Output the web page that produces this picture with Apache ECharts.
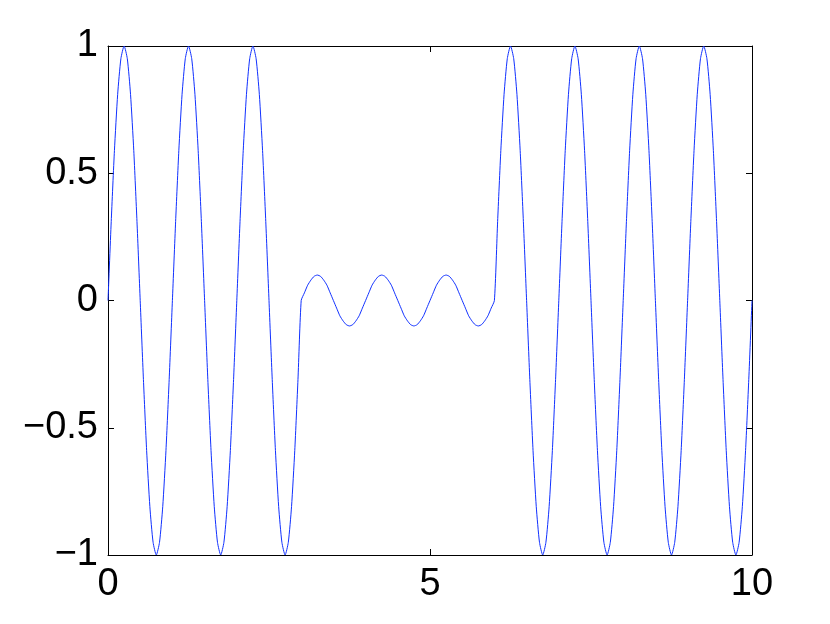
<!DOCTYPE html>
<html>
<head>
<meta charset="utf-8">
<script src="https://cdn.jsdelivr.net/npm/echarts@6/dist/echarts.min.js"></script>
<style>
  html, body { margin: 0; padding: 0; background: #fff; }
  #chart { width: 830px; height: 624px; }
</style>
</head>
<body>
<div id="chart"></div>
<script>
// Sample spacing along x (values read at every 0.05 step)
const xStep = 0.05;
// y values, x = 0 .. 2.95
const segmentA = [
  0, 0.31, 0.59, 0.81, 0.95, 1, 0.95, 0.81, 0.59, 0.31, 0, -0.31, -0.59, -0.81, -0.95, -1, -0.95, -0.81, -0.59, -0.31,
  0, 0.31, 0.59, 0.81, 0.95, 1, 0.95, 0.81, 0.59, 0.31, 0, -0.31, -0.59, -0.81, -0.95, -1, -0.95, -0.81, -0.59, -0.31,
  0, 0.31, 0.59, 0.81, 0.95, 1, 0.95, 0.81, 0.59, 0.31, 0, -0.31, -0.59, -0.81, -0.95, -1, -0.95, -0.81, -0.59, -0.31
];
// x = 3.00 .. 5.95 (small ripple)
const segmentB = [
  0, 0.03, 0.06, 0.08, 0.095, 0.1, 0.095, 0.08, 0.06, 0.03, 0, -0.03, -0.06, -0.08, -0.095, -0.1, -0.095, -0.08, -0.06, -0.03,
  0, 0.03, 0.06, 0.08, 0.095, 0.1, 0.095, 0.08, 0.06, 0.03, 0, -0.03, -0.06, -0.08, -0.095, -0.1, -0.095, -0.08, -0.06, -0.03,
  0, 0.03, 0.06, 0.08, 0.095, 0.1, 0.095, 0.08, 0.06, 0.03, 0, -0.03, -0.06, -0.08, -0.095, -0.1, -0.095, -0.08, -0.06, -0.03
];
// x = 6.00 .. 10.00
const segmentC = [
  0, 0.31, 0.59, 0.81, 0.95, 1, 0.95, 0.81, 0.59, 0.31, 0, -0.31, -0.59, -0.81, -0.95, -1, -0.95, -0.81, -0.59, -0.31,
  0, 0.31, 0.59, 0.81, 0.95, 1, 0.95, 0.81, 0.59, 0.31, 0, -0.31, -0.59, -0.81, -0.95, -1, -0.95, -0.81, -0.59, -0.31,
  0, 0.31, 0.59, 0.81, 0.95, 1, 0.95, 0.81, 0.59, 0.31, 0, -0.31, -0.59, -0.81, -0.95, -1, -0.95, -0.81, -0.59, -0.31,
  0, 0.31, 0.59, 0.81, 0.95, 1, 0.95, 0.81, 0.59, 0.31, 0, -0.31, -0.59, -0.81, -0.95, -1, -0.95, -0.81, -0.59, -0.31,
  0
];
const xTicks = [0, 5, 10];
const yTicks = [-1, -0.5, 0, 0.5, 1];

const yValues = segmentA.concat(segmentB, segmentC);
const lineData = yValues.map((y, i) => [Math.round(i * xStep * 100) / 100, y]);

const fontFamily = 'Liberation Sans, Arial, Helvetica, sans-serif';
const axisColor = '#000';
function fmt(v) {
  return v < 0 ? '\u2212' + String(Math.abs(v)) : String(v);
}
function xAxisCfg(pos, showLabel) {
  return {
    type: 'value', position: pos,
    min: xTicks[0], max: xTicks[xTicks.length - 1], interval: xTicks[1] - xTicks[0],
    axisLine: { show: true, onZero: false, lineStyle: { color: axisColor, width: 1 } },
    axisTick: { show: true, inside: true, length: 6, lineStyle: { color: axisColor, width: 1 } },
    splitLine: { show: false },
    axisLabel: { show: showLabel, color: '#000', fontSize: 38, fontFamily: fontFamily, margin: 11, formatter: fmt }
  };
}
function yAxisCfg(pos, showLabel) {
  return {
    type: 'value', position: pos,
    min: yTicks[0], max: yTicks[yTicks.length - 1], interval: yTicks[1] - yTicks[0],
    axisLine: { show: true, onZero: false, lineStyle: { color: axisColor, width: 1 } },
    axisTick: { show: true, inside: true, length: 6, lineStyle: { color: axisColor, width: 1 } },
    splitLine: { show: false },
    axisLabel: { show: showLabel, color: '#000', fontSize: 38, fontFamily: fontFamily, margin: 10, formatter: fmt }
  };
}

const chart = echarts.init(document.getElementById('chart'), null, { renderer: 'canvas' });
chart.setOption({
  animation: false,
  backgroundColor: '#fff',
  grid: { left: 108, right: 78, top: 46, bottom: 69, containLabel: false },
  xAxis: [xAxisCfg('bottom', true), xAxisCfg('top', false)],
  yAxis: [yAxisCfg('left', true), yAxisCfg('right', false)],
  series: [{
    type: 'line',
    data: lineData,
    xAxisIndex: 0, yAxisIndex: 0,
    showSymbol: false,
    symbol: 'none',
    smooth: 0.2,
    lineStyle: { color: '#1030ff', width: 1 },
    silent: true
  }]
});
</script>
</body>
</html>
